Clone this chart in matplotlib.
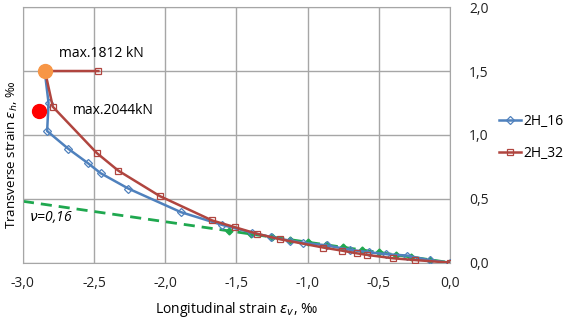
import numpy as np
import matplotlib.pyplot as plt
from matplotlib.ticker import FuncFormatter, MultipleLocator

plt.rcParams['font.family'] = ['Open Sans', 'DejaVu Sans']
plt.rcParams['mathtext.fontset'] = 'dejavusans'

# 2H_16 (blue diamonds)
x16 = [0.0, -0.14, -0.30, -0.445, -0.567, -0.70, -0.866, -1.03, -1.124, -1.257, -1.393,
       -1.60, -1.89, -2.26, -2.454, -2.545, -2.68, -2.83, -2.82, -2.845]
y16 = [0.0, 0.018, 0.055, 0.066, 0.081, 0.10, 0.135, 0.155, 0.172, 0.20, 0.235,
       0.295, 0.395, 0.58, 0.70, 0.78, 0.89, 1.03, 1.25, 1.48]

# 2H_32 (red squares)
x32 = [0.0, -0.245, -0.40, -0.58, -0.655, -0.76, -0.89, -1.194, -1.353, -1.51,
       -1.67, -2.037, -2.33, -2.48, -2.79, -2.845, -2.47]
y32 = [0.0, 0.02, 0.034, 0.06, 0.073, 0.094, 0.118, 0.183, 0.225, 0.277,
       0.33, 0.52, 0.72, 0.857, 1.22, 1.5, 1.5]

# peaks
max16 = (-2.885, 1.19)   # 2044 kN
max32 = (-2.845, 1.5)    # 1812 kN

# nu = 0,16 reference line
nu = 0.16
nu_x = [-3.0, 0.0]
nu_pts = [-1.55, -1.40, -1.25, -1.12, -1.0, -0.87, -0.75, -0.62, -0.50, -0.38, -0.27, -0.14, 0.0]

blue = '#4F81BD'
red = '#B0453F'
green = '#1FA84F'

fig = plt.figure(figsize=(5.88, 3.25), dpi=100)
ax = fig.add_axes([0.039, 0.192, 0.726, 0.786])

ax.plot(nu_x, [-nu * v for v in nu_x], '--', color=green, lw=2, dashes=(4, 2.5), zorder=2)
ax.plot(nu_pts, [-nu * v for v in nu_pts], 'D', color=green, ms=3.5, zorder=2)

ax.plot(x16, y16, '-', color=blue, lw=1.8, marker='D', ms=4.5, mfc='none', mec=blue,
        mew=0.9, label='2H_16', zorder=3)
ax.plot(x32, y32, '-', color=red, lw=1.8, marker='s', ms=5, mfc='none', mec=red,
        mew=0.9, label='2H_32', zorder=3)

ax.plot(*max16, 'o', color='#FF0000', ms=10, zorder=5)
ax.plot(*max32, 'o', color='#F79646', ms=10, zorder=5)

ax.text(-2.75, 1.58, 'max.1812 kN', fontsize=10, va='bottom')
ax.text(-2.65, 1.19, 'max.2044kN', fontsize=10, va='center')
ax.text(-2.96, 0.36, r'$\nu$=0,16', fontsize=10, style='italic', va='center')

ax.set_xlim(-3, 0)
ax.set_ylim(0, 2)
ax.xaxis.set_major_locator(MultipleLocator(0.5))
ax.yaxis.set_major_locator(MultipleLocator(0.5))
fmt = FuncFormatter(lambda v, p: f'{v:.1f}'.replace('.', ','))
ax.xaxis.set_major_formatter(fmt)
ax.yaxis.set_major_formatter(fmt)
ax.yaxis.tick_right()
ax.tick_params(length=0, labelsize=10, colors='#222222')
ax.tick_params(axis='x', pad=10)
ax.tick_params(axis='y', pad=14)
ax.grid(True, color='#a6a6a6', lw=1)
for s in ax.spines.values():
    s.set_color('#a6a6a6')

ax.set_xlabel(r'Longitudinal strain $\varepsilon_v$, ‰', fontsize=10, labelpad=6)
fig.text(0.022, 0.525, r'Transverse strain $\varepsilon_h$, ‰', rotation=90,
         fontsize=9.6, ha='center', va='center')

ax.legend(loc='center left', bbox_to_anchor=(1.085, 0.49), frameon=False, fontsize=10,
          handlelength=1.6, handletextpad=0.2, labelspacing=1.2)

fig.savefig('out.png', dpi=100)
